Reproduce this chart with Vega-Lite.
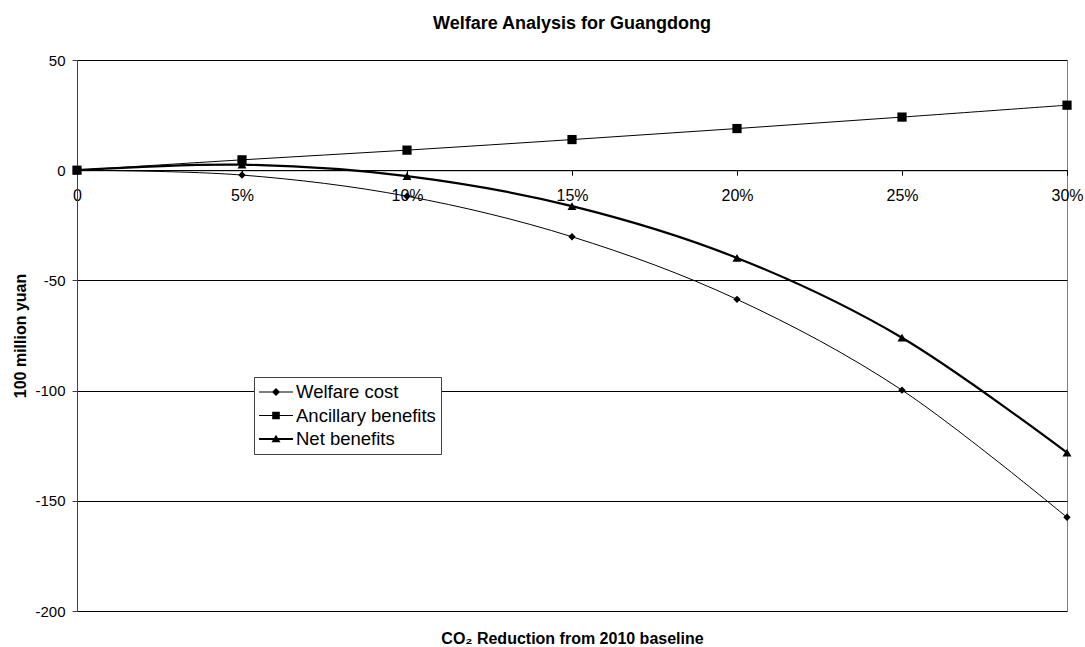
{
  "$schema": "https://vega.github.io/schema/vega-lite/v6.json",
  "width": 990,
  "height": 551,
  "autosize": "none",
  "padding": {"left": 77, "top": 60, "right": 18, "bottom": 36},
  "background": "white",
  "title": {
    "text": "Welfare Analysis for Guangdong",
    "fontSize": 18,
    "fontWeight": "bold",
    "font": "Liberation Sans",
    "color": "black",
    "anchor": "middle",
    "baseline": "alphabetic",
    "offset": 6
  },
  "data": {
    "values": [
      {"reduction": 0, "series": "Welfare cost", "value": 0},
      {"reduction": 5, "series": "Welfare cost", "value": -2.2},
      {"reduction": 10, "series": "Welfare cost", "value": -11.8},
      {"reduction": 15, "series": "Welfare cost", "value": -30.2},
      {"reduction": 20, "series": "Welfare cost", "value": -58.6},
      {"reduction": 25, "series": "Welfare cost", "value": -99.8},
      {"reduction": 30, "series": "Welfare cost", "value": -157.5},
      {"reduction": 0, "series": "Ancillary benefits", "value": 0},
      {"reduction": 5, "series": "Ancillary benefits", "value": 4.7},
      {"reduction": 10, "series": "Ancillary benefits", "value": 9.1},
      {"reduction": 15, "series": "Ancillary benefits", "value": 13.9},
      {"reduction": 20, "series": "Ancillary benefits", "value": 18.9},
      {"reduction": 25, "series": "Ancillary benefits", "value": 24.1},
      {"reduction": 30, "series": "Ancillary benefits", "value": 29.5},
      {"reduction": 0, "series": "Net benefits", "value": 0},
      {"reduction": 5, "series": "Net benefits", "value": 2.5},
      {"reduction": 10, "series": "Net benefits", "value": -2.7},
      {"reduction": 15, "series": "Net benefits", "value": -16.3},
      {"reduction": 20, "series": "Net benefits", "value": -39.8},
      {"reduction": 25, "series": "Net benefits", "value": -76},
      {"reduction": 30, "series": "Net benefits", "value": -128.1}
    ]
  },
  "encoding": {
    "x": {
      "field": "reduction",
      "type": "quantitative",
      "scale": {"domain": [0, 30], "nice": false, "zero": false},
      "axis": {
        "orient": "bottom",
        "offset": -440.8,
        "values": [0, 5, 10, 15, 20, 25, 30],
        "labelExpr": "datum.value == 0 ? '0' : datum.value + '%'",
        "labelFlush": false,
        "labelOverlap": false,
        "labelFontSize": 16,
        "labelColor": "black",
        "labelPadding": 12,
        "tickSize": 5,
        "tickColor": "black",
        "domainColor": "black",
        "grid": false,
        "title": "CO₂ Reduction from 2010 baseline",
        "titleFontSize": 16,
        "titleFontWeight": "bold",
        "titleColor": "black",
        "titleY": 468,
        "titleBaseline": "middle"
      }
    },
    "y": {
      "field": "value",
      "type": "quantitative",
      "scale": {"domain": [-200, 50], "nice": false, "zero": false},
      "axis": {
        "values": [-200, -150, -100, -50, 0, 50],
        "labelExpr": "'' + datum.value",
        "labelFontSize": 15,
        "labelColor": "black",
        "labelPadding": 7,
        "tickSize": 5,
        "tickColor": "#404040",
        "domainColor": "#404040",
        "grid": true,
        "gridColor": "black",
        "gridOpacity": 1,
        "title": "100 million yuan",
        "titleFontSize": 16,
        "titleFontWeight": "bold",
        "titleColor": "black",
        "titlePadding": 6
      }
    }
  },
  "layer": [
    {
      "mark": {"type": "line", "interpolate": "cardinal", "color": "black"},
      "encoding": {
        "detail": {"field": "series", "type": "nominal"},
        "strokeWidth": {
          "condition": {"test": "datum.series === 'Net benefits'", "value": 2.2},
          "value": 1
        }
      }
    },
    {
      "mark": {"type": "point", "filled": true, "color": "black", "opacity": 1},
      "encoding": {
        "shape": {
          "field": "series",
          "type": "nominal",
          "scale": {
            "domain": ["Welfare cost", "Ancillary benefits", "Net benefits"],
            "range": ["diamond", "square", "triangle-up"]
          },
          "legend": null
        },
        "size": {
          "condition": [
            {"test": "datum.series === 'Welfare cost'", "value": 55},
            {"test": "datum.series === 'Ancillary benefits'", "value": 85}
          ],
          "value": 80
        }
      }
    },
    {
      "mark": {"type": "point", "filled": true, "color": "black", "opacity": 0},
      "encoding": {
        "shape": {
          "field": "series",
          "type": "nominal",
          "scale": {
            "domain": ["Welfare cost", "Ancillary benefits", "Net benefits"],
            "range": [
              "M-1,-0.05H2.4V0.05H-1ZM0.7,-0.4L1.1,0L0.7,0.4L0.3,0Z",
              "M-1,-0.05H2.4V0.05H-1ZM0.32,-0.38H1.08V0.38H0.32Z",
              "M-1,-0.1H2.4V0.1H-1ZM0.7,-0.42L1.15,0.32H0.25Z"
            ]
          },
          "legend": {
            "title": null,
            "orient": "none",
            "legendX": 177,
            "legendY": 317,
            "symbolSize": 400,
            "symbolOpacity": 1,
            "symbolFillColor": "black",
            "symbolStrokeColor": "black",
            "symbolStrokeWidth": 0,
            "labelFontSize": 18.5,
            "labelColor": "black",
            "labelOffset": 17,
            "labelLimit": 300,
            "rowPadding": 3.5,
            "padding": 5,
            "strokeColor": "#404040",
            "fillColor": "white"
          }
        }
      }
    }
  ],
  "resolve": {"scale": {"shape": "independent"}},
  "config": {
    "font": "Liberation Sans",
    "view": {"stroke": "#808080", "strokeWidth": 1}
  }
}
